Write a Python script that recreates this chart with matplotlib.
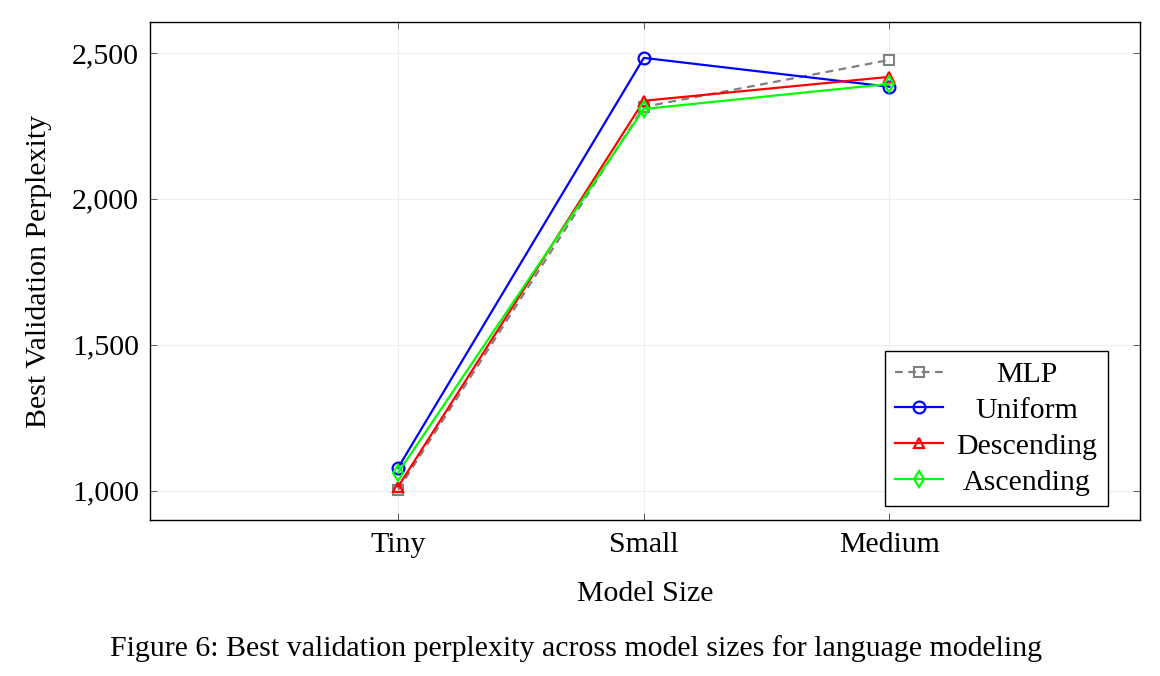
import matplotlib
matplotlib.use("Agg")
import matplotlib.pyplot as plt
from matplotlib.ticker import FuncFormatter

categories = ["Tiny", "Small", "Medium"]
mlp = [1003, 2315, 2476]
uniform = [1079, 2483, 2384]
descending = [1014, 2336, 2418]
ascending = [1062, 2308, 2394]
yticks = [1000, 1500, 2000, 2500]

plt.rcParams['font.family'] = ['Liberation Serif', 'DejaVu Serif']
FS = 21.5

fig = plt.figure(figsize=(11.6, 6.76), dpi=100)
ax = fig.add_axes([0.1293, 0.2308, 0.8535, 0.7367])
x = list(range(len(categories)))

ax.plot(x, mlp, color='#808080', linestyle=(0, (3.5, 2.5)), linewidth=1.6,
        marker='s', markersize=7, markerfacecolor='none', markeredgewidth=1.5,
        label='MLP', zorder=3)
ax.plot(x, uniform, color='#0000ff', linewidth=1.6, marker='o', markersize=8.5,
        markerfacecolor='none', markeredgewidth=1.6, label='Uniform', zorder=4)
ax.plot(x, descending, color='#ff0000', linewidth=1.6, marker='^', markersize=7.5,
        markerfacecolor='none', markeredgewidth=1.6, label='Descending', zorder=4)
ax.plot(x, ascending, color='#00ff00', linewidth=1.6, marker='d', markersize=8,
        markerfacecolor='none', markeredgewidth=1.6, label='Ascending', zorder=5)

ax.set_xlim(-1.01, 3.02)
ax.set_ylim(900, 2606)
ax.set_xticks(x)
ax.set_xticklabels(categories)
ax.set_yticks(yticks)
ax.yaxis.set_major_formatter(FuncFormatter(lambda v, p: f"{int(v):,}"))
ax.tick_params(direction='in', length=5, width=0.6, labelsize=FS, top=True, right=True,
               color='#444444')
ax.tick_params(axis='x', pad=9)
ax.tick_params(axis='y', pad=8)
ax.grid(True, color='#eeeeee', linewidth=0.8)
ax.set_axisbelow(True)
for s in ax.spines.values():
    s.set_linewidth(1.0)

ax.set_xlabel("Model Size", fontsize=FS, labelpad=16)
ax.set_ylabel("Best Validation Perplexity", fontsize=FS, labelpad=14)

leg = ax.legend(loc='lower right', fontsize=FS, frameon=True, fancybox=False,
                edgecolor='black', framealpha=1, borderpad=0.35, labelspacing=0.3,
                handlelength=1.6, handletextpad=0.45, borderaxespad=0,
                bbox_to_anchor=(0.9677, 0.028))
leg.get_frame().set_linewidth(1.0)

# center the legend texts (pgfplots style)
fig.canvas.draw()
renderer = fig.canvas.get_renderer()
texts = leg.get_texts()
bbs = [t.get_window_extent(renderer) for t in texts]
cx = (min(b.x0 for b in bbs) + max(b.x1 for b in bbs)) / 2
for t, b in zip(texts, bbs):
    t.set_alpha(0)
    fig.text(cx, (b.y0 + b.y1) / 2, t.get_text(), transform=None,
             ha='center', va='center', fontsize=FS, zorder=10)

fig.text(0.497, 0.041, "Figure 6: Best validation perplexity across model sizes for language modeling",
         ha='center', va='center', fontsize=FS)

fig.savefig("out.png", dpi=100)
